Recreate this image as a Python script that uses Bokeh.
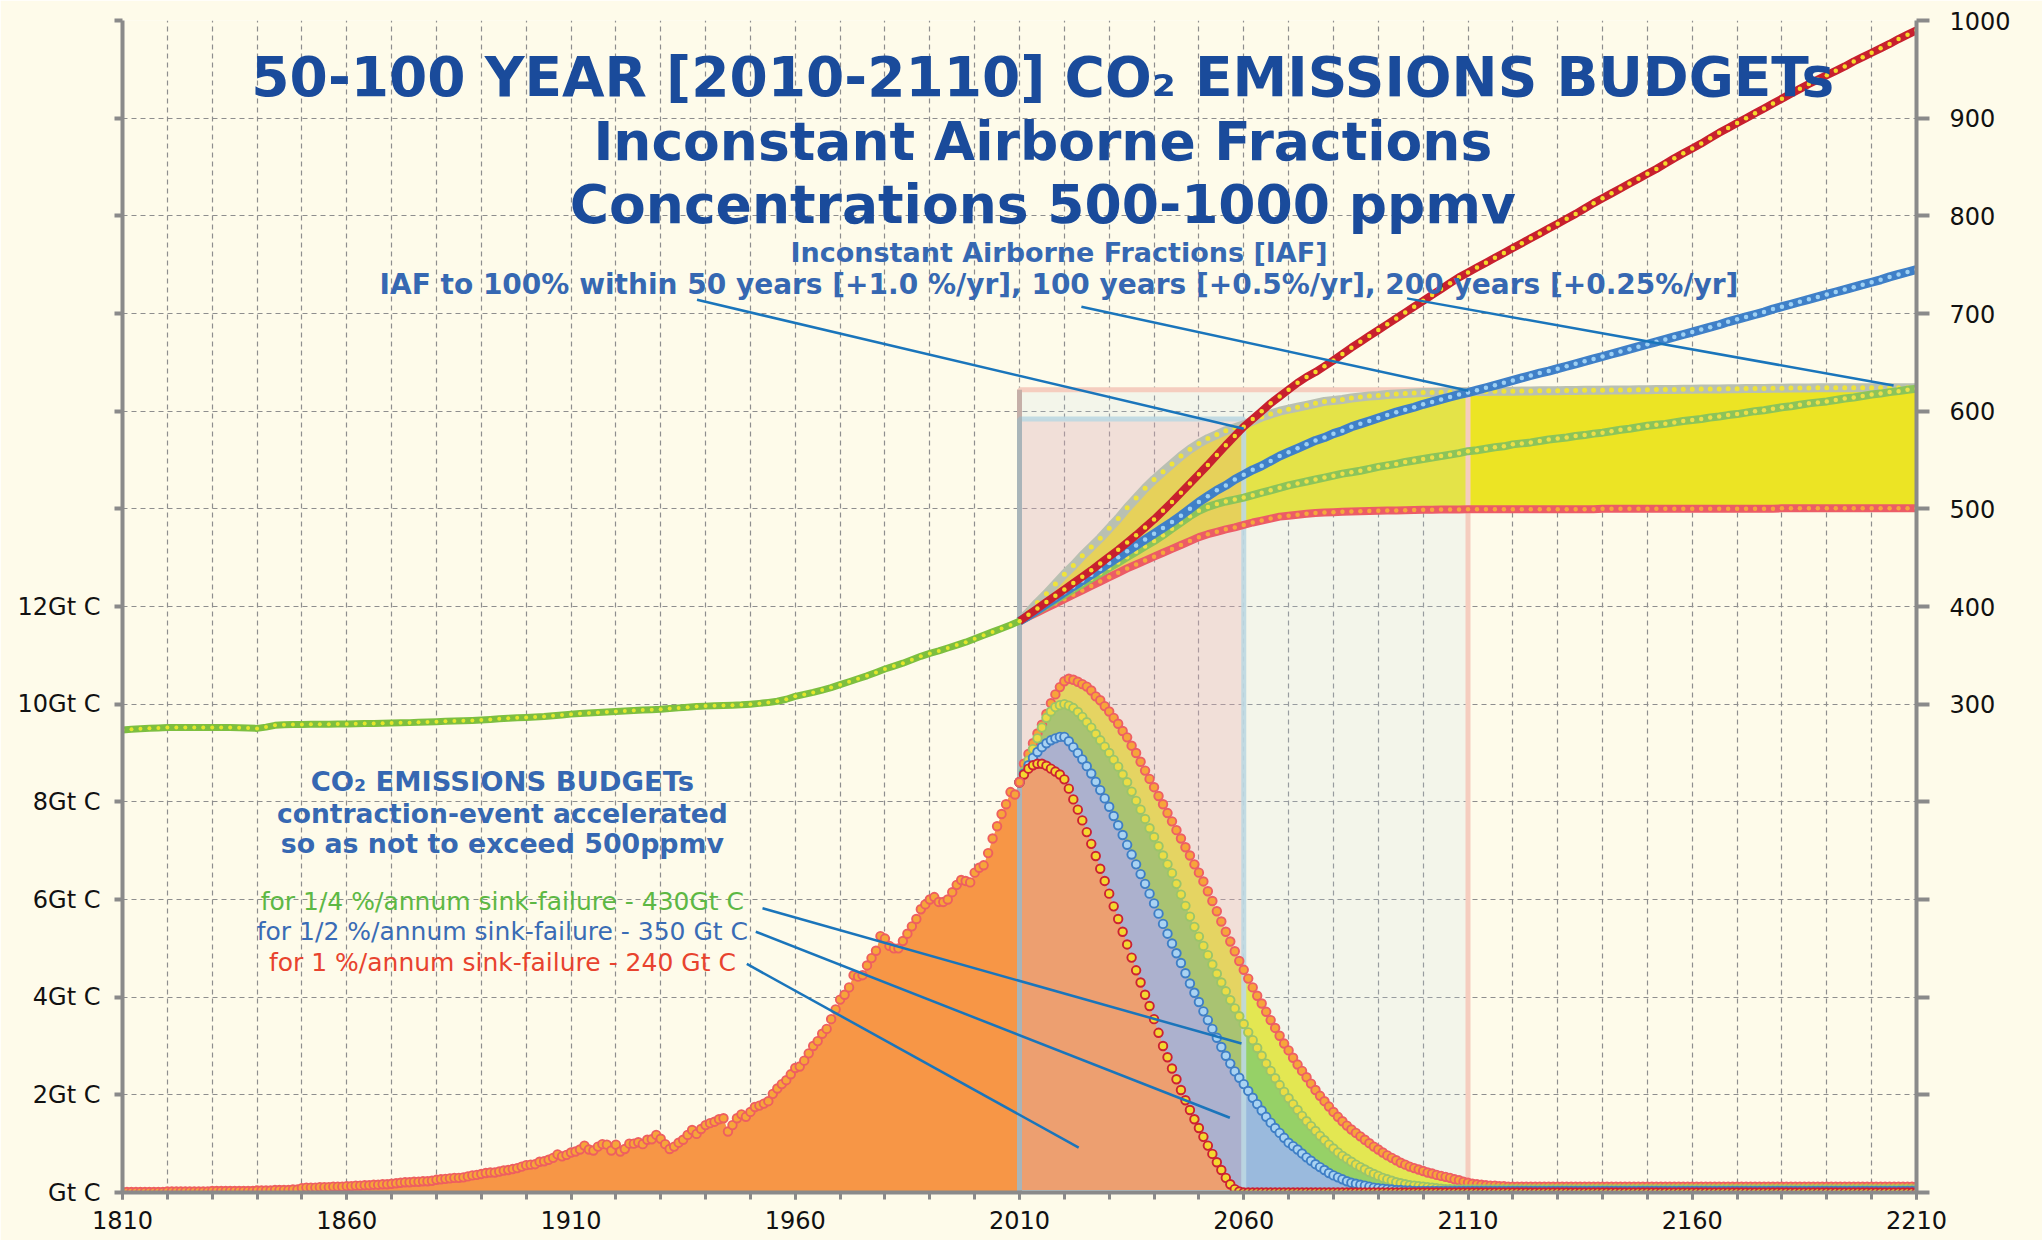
from bokeh.plotting import figure
from bokeh.models import Range1d, LinearAxis, FixedTicker, Label
from bokeh.embed import file_html
from bokeh.resources import INLINE

# ---------------- DATA ----------------
HIST_YEARS = list(range(1810, 2011))          # yearly
FUT_YEARS = list(range(2010, 2211))           # yearly
HIST_PPM_YEARS = list(range(1810, 2011, 2))   # every 2 years
FUT_PPM_YEARS = list(range(2010, 2211, 2))    # every 2 years

# historical emissions, Gt C
HIST_EMIS = [
    0.01, 0.01, 0.01, 0.01, 0.01, 0.01, 0.01, 0.01, 0.01, 0.01,
    0.02, 0.02, 0.02, 0.02, 0.02, 0.02, 0.02, 0.02, 0.02, 0.02,
    0.03, 0.03, 0.03, 0.03, 0.03, 0.03, 0.03, 0.03, 0.03, 0.03,
    0.04, 0.04, 0.04, 0.04, 0.05, 0.05, 0.05, 0.05, 0.06, 0.06,
    0.09, 0.10, 0.10, 0.10, 0.11, 0.11, 0.11, 0.12, 0.12, 0.12,
    0.13, 0.13, 0.14, 0.14, 0.15, 0.15, 0.16, 0.16, 0.17, 0.17,
    0.18, 0.19, 0.20, 0.21, 0.21, 0.22, 0.22, 0.23, 0.23, 0.24,
    0.26, 0.27, 0.28, 0.29, 0.30, 0.30, 0.31, 0.33, 0.35, 0.36,
    0.38, 0.40, 0.41, 0.41, 0.43, 0.45, 0.46, 0.48, 0.50, 0.53,
    0.56, 0.57, 0.58, 0.63, 0.64, 0.67, 0.71, 0.78, 0.74, 0.77,
    0.82, 0.84, 0.88, 0.96, 0.88, 0.86, 0.94, 0.99, 0.98, 0.86,
    0.98, 0.84, 0.89, 1.00, 1.00, 1.03, 0.99, 1.08, 1.09, 1.18,
    1.10, 0.99, 0.89, 0.94, 1.02, 1.08, 1.18, 1.28, 1.20, 1.30,
    1.38, 1.42, 1.45, 1.50, 1.52, 1.25, 1.38, 1.52, 1.60, 1.55,
    1.65, 1.75, 1.78, 1.82, 1.87, 2.02, 2.13, 2.22, 2.30, 2.42,
    2.55, 2.58, 2.70, 2.85, 3.00, 3.10, 3.25, 3.35, 3.55, 3.75,
    3.95, 4.05, 4.20, 4.45, 4.42, 4.45, 4.65, 4.80, 4.95, 5.25,
    5.20, 5.05, 5.00, 5.00, 5.15, 5.30, 5.45, 5.60, 5.80, 5.90,
    6.00, 6.05, 5.95, 5.95, 6.00, 6.15, 6.30, 6.40, 6.38, 6.35,
    6.55, 6.65, 6.70, 6.95, 7.25, 7.50, 7.75, 7.95, 8.20, 8.15,
    8.40]

# future emission budgets, Gt C (1% / 0.5% / 0.25% sink-failure and upper envelope)
RED_EMIS = [
    8.40, 8.56, 8.68, 8.75, 8.78, 8.78, 8.74, 8.68, 8.62, 8.56,
    8.46, 8.27, 8.05, 7.84, 7.62, 7.38, 7.14, 6.89, 6.63, 6.38,
    6.12, 5.86, 5.60, 5.34, 5.08, 4.81, 4.55, 4.30, 4.05, 3.82,
    3.55, 3.27, 3.00, 2.77, 2.54, 2.32, 2.10, 1.89, 1.69, 1.50,
    1.32, 1.14, 0.96, 0.79, 0.62, 0.46, 0.30, 0.17, 0.07, 0.02,
    0, 0, 0, 0, 0, 0, 0, 0, 0, 0,
    0, 0, 0, 0, 0, 0, 0, 0, 0, 0,
    0, 0, 0, 0, 0, 0, 0, 0, 0, 0,
    0, 0, 0, 0, 0, 0, 0, 0, 0, 0,
    0, 0, 0, 0, 0, 0, 0, 0, 0, 0,
    0, 0, 0, 0, 0, 0, 0, 0, 0, 0,
    0, 0, 0, 0, 0, 0, 0, 0, 0, 0,
    0, 0, 0, 0, 0, 0, 0, 0, 0, 0,
    0, 0, 0, 0, 0, 0, 0, 0, 0, 0,
    0, 0, 0, 0, 0, 0, 0, 0, 0, 0,
    0, 0, 0, 0, 0, 0, 0, 0, 0, 0,
    0, 0, 0, 0, 0, 0, 0, 0, 0, 0,
    0, 0, 0, 0, 0, 0, 0, 0, 0, 0,
    0, 0, 0, 0, 0, 0, 0, 0, 0, 0,
    0, 0, 0, 0, 0, 0, 0, 0, 0, 0,
    0]

BLUE_EMIS = [
    8.40, 8.58, 8.75, 8.90, 9.02, 9.12, 9.20, 9.26, 9.30, 9.33,
    9.33, 9.24, 9.12, 9.00, 8.87, 8.73, 8.58, 8.41, 8.24, 8.07,
    7.90, 7.71, 7.52, 7.32, 7.12, 6.92, 6.72, 6.52, 6.32, 6.12,
    5.92, 5.71, 5.50, 5.30, 5.10, 4.90, 4.70, 4.49, 4.28, 4.09,
    3.90, 3.71, 3.53, 3.35, 3.17, 2.98, 2.80, 2.64, 2.48, 2.35,
    2.22, 2.08, 1.94, 1.81, 1.68, 1.55, 1.43, 1.32, 1.22, 1.12,
    1.02, 0.95, 0.88, 0.80, 0.72, 0.65, 0.58, 0.52, 0.46, 0.40,
    0.35, 0.31, 0.27, 0.23, 0.20, 0.18, 0.16, 0.14, 0.12, 0.10,
    0.09, 0.08, 0.07, 0.06, 0.05, 0.05, 0.04, 0.04, 0.03, 0.03,
    0.03, 0.03, 0.03, 0.03, 0.03, 0.03, 0.03, 0.03, 0.03, 0.03,
    0.03, 0.03, 0.03, 0.03, 0.03, 0.03, 0.03, 0.03, 0.03, 0.03,
    0.03, 0.03, 0.03, 0.03, 0.03, 0.03, 0.03, 0.03, 0.03, 0.03,
    0.03, 0.03, 0.03, 0.03, 0.03, 0.03, 0.03, 0.03, 0.03, 0.03,
    0.03, 0.03, 0.03, 0.03, 0.03, 0.03, 0.03, 0.03, 0.03, 0.03,
    0.03, 0.03, 0.03, 0.03, 0.03, 0.03, 0.03, 0.03, 0.03, 0.03,
    0.03, 0.03, 0.03, 0.03, 0.03, 0.03, 0.03, 0.03, 0.03, 0.03,
    0.03, 0.03, 0.03, 0.03, 0.03, 0.03, 0.03, 0.03, 0.03, 0.03,
    0.03, 0.03, 0.03, 0.03, 0.03, 0.03, 0.03, 0.03, 0.03, 0.03,
    0.03, 0.03, 0.03, 0.03, 0.03, 0.03, 0.03, 0.03, 0.03, 0.03,
    0.03, 0.03, 0.03, 0.03, 0.03, 0.03, 0.03, 0.03, 0.03, 0.03,
    0.03]

GREEN_EMIS = [
    8.40, 8.62, 8.85, 9.08, 9.30, 9.52, 9.72, 9.85, 9.94, 9.98,
    10.00, 9.97, 9.92, 9.84, 9.74, 9.63, 9.52, 9.39, 9.26, 9.13,
    9.00, 8.86, 8.72, 8.56, 8.40, 8.21, 8.02, 7.84, 7.65, 7.46,
    7.28, 7.09, 6.90, 6.72, 6.54, 6.32, 6.10, 5.87, 5.65, 5.44,
    5.24, 5.05, 4.86, 4.67, 4.48, 4.30, 4.12, 3.94, 3.77, 3.61,
    3.45, 3.28, 3.12, 2.96, 2.80, 2.64, 2.49, 2.34, 2.20, 2.06,
    1.93, 1.81, 1.69, 1.57, 1.46, 1.36, 1.26, 1.16, 1.07, 0.98,
    0.90, 0.82, 0.75, 0.69, 0.63, 0.57, 0.52, 0.47, 0.42, 0.38,
    0.34, 0.30, 0.27, 0.24, 0.21, 0.19, 0.17, 0.15, 0.14, 0.13,
    0.12, 0.11, 0.10, 0.09, 0.08, 0.07, 0.07, 0.06, 0.06, 0.06,
    0.06, 0.06, 0.06, 0.06, 0.06, 0.06, 0.06, 0.06, 0.06, 0.06,
    0.06, 0.06, 0.06, 0.06, 0.06, 0.06, 0.06, 0.06, 0.06, 0.06,
    0.06, 0.06, 0.06, 0.06, 0.06, 0.06, 0.06, 0.06, 0.06, 0.06,
    0.06, 0.06, 0.06, 0.06, 0.06, 0.06, 0.06, 0.06, 0.06, 0.06,
    0.06, 0.06, 0.06, 0.06, 0.06, 0.06, 0.06, 0.06, 0.06, 0.06,
    0.06, 0.06, 0.06, 0.06, 0.06, 0.06, 0.06, 0.06, 0.06, 0.06,
    0.06, 0.06, 0.06, 0.06, 0.06, 0.06, 0.06, 0.06, 0.06, 0.06,
    0.06, 0.06, 0.06, 0.06, 0.06, 0.06, 0.06, 0.06, 0.06, 0.06,
    0.06, 0.06, 0.06, 0.06, 0.06, 0.06, 0.06, 0.06, 0.06, 0.06,
    0.06, 0.06, 0.06, 0.06, 0.06, 0.06, 0.06, 0.06, 0.06, 0.06,
    0.06]

TOP_EMIS = [
    8.40, 8.78, 8.98, 9.20, 9.40, 9.58, 9.80, 10.02, 10.20, 10.35,
    10.47, 10.52, 10.50, 10.46, 10.41, 10.36, 10.28, 10.16, 10.08, 9.96,
    9.85, 9.72, 9.60, 9.45, 9.32, 9.15, 9.00, 8.82, 8.64, 8.47,
    8.30, 8.12, 7.95, 7.77, 7.60, 7.42, 7.25, 7.07, 6.90, 6.72,
    6.55, 6.37, 6.17, 5.97, 5.76, 5.55, 5.34, 5.14, 4.94, 4.74,
    4.56, 4.38, 4.20, 4.03, 3.87, 3.70, 3.53, 3.37, 3.21, 3.05,
    2.91, 2.76, 2.62, 2.49, 2.36, 2.23, 2.10, 1.98, 1.87, 1.76,
    1.65, 1.55, 1.46, 1.37, 1.29, 1.22, 1.15, 1.08, 1.01, 0.94,
    0.88, 0.82, 0.76, 0.71, 0.66, 0.61, 0.57, 0.53, 0.50, 0.47,
    0.44, 0.41, 0.39, 0.36, 0.34, 0.32, 0.30, 0.27, 0.25, 0.22,
    0.20, 0.18, 0.17, 0.16, 0.15, 0.14, 0.14, 0.13, 0.13, 0.12,
    0.12, 0.12, 0.12, 0.12, 0.12, 0.12, 0.12, 0.12, 0.12, 0.12,
    0.12, 0.12, 0.12, 0.12, 0.12, 0.12, 0.12, 0.12, 0.12, 0.12,
    0.12, 0.12, 0.12, 0.12, 0.12, 0.12, 0.12, 0.12, 0.12, 0.12,
    0.12, 0.12, 0.12, 0.12, 0.12, 0.12, 0.12, 0.12, 0.12, 0.12,
    0.12, 0.12, 0.12, 0.12, 0.12, 0.12, 0.12, 0.12, 0.12, 0.12,
    0.12, 0.12, 0.12, 0.12, 0.12, 0.12, 0.12, 0.12, 0.12, 0.12,
    0.12, 0.12, 0.12, 0.12, 0.12, 0.12, 0.12, 0.12, 0.12, 0.12,
    0.12, 0.12, 0.12, 0.12, 0.12, 0.12, 0.12, 0.12, 0.12, 0.12,
    0.12, 0.12, 0.12, 0.12, 0.12, 0.12, 0.12, 0.12, 0.12, 0.12,
    0.12]

# concentrations, ppmv
HIST_PPM = [
    273.5, 274.2, 274.8, 275.3, 275.7, 276.0, 276.0, 276.1, 276.1, 276.1,
    276.1, 276.1, 276.0, 275.8, 275.5, 275.2, 276.5, 278.3, 279.0, 279.2,
    279.3, 279.4, 279.5, 279.5, 279.6, 279.7, 279.9, 280.1, 280.3, 280.5,
    280.7, 280.9, 281.1, 281.4, 281.7, 282.0, 282.4, 282.8, 283.1, 283.4,
    283.8, 284.4, 285.0, 285.6, 286.0, 286.4, 286.8, 287.3, 288.1, 289.0,
    289.8, 290.5, 291.0, 291.5, 292.0, 292.5, 293.0, 293.5, 294.0, 294.4,
    294.8, 295.5, 296.2, 296.9, 297.5, 298.0, 298.3, 298.6, 298.9, 299.3,
    300.0, 300.8, 301.8, 303.0, 305.0, 308.0, 310.0, 312.0, 314.5, 317.0,
    320.0, 323.0, 326.0, 329.0, 332.5, 336.0, 339.0, 342.0, 345.5, 349.0,
    352.0, 354.5, 357.5, 360.5, 363.5, 367.0, 370.5, 374.0, 377.5, 381.0,
    385.0]

PPM_500 = [
    385, 389.5, 394, 398.5, 403, 407.5, 412, 416.5, 421, 425.5,
    430, 434.5, 439, 443, 447, 451, 455, 459, 463, 467,
    471, 474, 476.5, 479, 481, 483.5, 486, 488, 490, 492,
    493, 494, 495, 495.8, 496.2, 496.6, 497, 497.3, 497.6, 497.8,
    498, 498.2, 498.4, 498.6, 498.8, 499, 499.1, 499.2, 499.3, 499.4,
    499.5, 499.5, 499.5, 499.5, 499.5, 499.5, 499.5, 499.5, 499.5, 499.5,
    499.5, 499.5, 499.5, 499.5, 499.5, 500, 500, 500, 500, 500,
    500, 500, 500, 500, 500, 500, 500, 500, 500, 500,
    500, 500, 500, 500, 500, 500.5, 500.5, 500.5, 500.5, 500.5,
    500.5, 500.5, 500.5, 500.5, 500.5, 500.5, 500.5, 500.5, 500.5, 500.5,
    500.5]

PPM_TOP = [
    385, 394, 404, 413, 423, 433, 442, 452, 461, 470,
    480, 490, 501, 511, 521, 530, 538, 546, 554, 561,
    567, 572, 576, 580, 583, 586, 590, 594, 597, 600,
    602, 604, 606, 608, 610, 611, 612, 613.5, 614.5, 615.5,
    616, 617, 617.5, 618, 618.5, 619, 619.2, 619.4, 619.6, 619.8,
    620, 620.1, 620.2, 620.3, 620.4, 620.5, 620.6, 620.7, 620.8, 620.9,
    621, 621.1, 621.2, 621.3, 621.4, 621.5, 621.6, 621.7, 621.8, 621.9,
    622, 622.1, 622.2, 622.3, 622.4, 622.5, 622.6, 622.7, 622.8, 622.9,
    623, 623.1, 623.2, 623.3, 623.4, 623.5, 623.6, 623.7, 623.8, 623.9,
    624, 624, 624, 624, 624, 624, 624, 624, 624, 624,
    624]

PPM_RED = [
    385, 391.5, 398, 404.5, 411, 417.5, 424, 430.5, 437, 444,
    451, 458, 465.5, 473, 481, 489, 498, 507, 516.5, 526,
    535.5, 545, 555, 565, 574.5, 584, 592, 600, 608, 615,
    622, 629, 635, 640, 646, 652, 658.5, 665, 671, 677,
    683, 689, 695, 701, 707, 713, 719, 725, 731, 737,
    742, 747, 752, 757, 762, 767, 772, 777, 782, 787,
    792, 797, 802, 807.5, 813, 818, 823, 828, 833, 838,
    843, 848, 853.5, 859, 864, 869, 874, 879.5, 885, 890,
    895, 900, 905, 910, 915, 920, 925, 930, 935, 939.5,
    944, 948.5, 953, 958, 962.5, 967, 971.5, 976, 981, 985.5,
    990]

PPM_BLUE = [
    385, 390.5, 396.5, 402.5, 408.5, 414.5, 420.5, 426.5, 432.5, 438.5,
    444.5, 450.5, 456.5, 462.5, 468.5, 474.5, 480.5, 486.5, 493, 500,
    507, 513, 519, 524, 530, 535, 540, 544, 549, 554,
    558, 562, 566, 570, 573, 577, 580, 584, 587, 590,
    593, 596, 599, 601.5, 604, 607, 609.5, 612, 614.5, 617,
    619, 621.5, 624, 626.5, 629, 631.5, 634, 636.5, 639, 641,
    643.5, 646, 648.5, 651, 653.5, 656, 658.5, 661, 663.5, 666,
    668.5, 671, 673.5, 676, 678.5, 681, 683.5, 686, 688.5, 691.5,
    694, 696.5, 699, 701.5, 704.5, 707, 709.5, 712, 714.5, 717,
    719.5, 722, 724.5, 727, 729.5, 732, 734.5, 737.5, 740, 742.5,
    745]

PPM_GREEN = [
    385, 390, 395.5, 401, 406.5, 412, 417.5, 423, 428.5, 434,
    439.5, 445, 450.5, 456, 461.5, 467, 473, 479.5, 486, 492.5,
    498, 502, 505, 507.5, 509.5, 511.5, 514, 516.5, 519, 521.5,
    524, 526, 528, 530, 532, 534, 536, 537.5, 539, 541,
    543, 544.5, 546, 548, 549.5, 551, 552.5, 554, 555.5, 557,
    559, 560, 561.5, 563, 564, 566, 567, 568, 569.5, 571,
    572, 573, 574.5, 575.5, 577, 578, 579.5, 581, 582, 583.5,
    585, 586, 587, 588.5, 590, 591, 592, 593.5, 594.5, 596,
    597, 598.5, 600, 601, 602.5, 604, 605, 606.5, 608, 609,
    610, 611.5, 613, 614, 615.5, 617, 618, 619.5, 620.5, 622,
    623]

# budget windows (years) and their ppm ceilings
WINDOW_START, WINDOW_50, WINDOW_100 = 2010, 2060, 2110
CEIL_100, CEIL_50 = 622, 592

# callout lines: (x0, y0, x1, y1)
IAF_CALLOUTS = [(1938.1, 714, 2060.0, 582), (2023.8, 707, 2110.1, 621), (2096.4, 715.5, 2204.9, 626.3)]
BUDGET_CALLOUTS = [(1952.7, 5.82, 2059.5, 3.05), (1951.2, 5.34, 2056.9, 1.53), (1949.2, 4.68, 2023.2, 0.92)]

X_TICKS = list(range(1810, 2211, 50))
X_MINOR = list(range(1810, 2211, 10))
GT_TICKS = list(range(0, 25, 2))
PPM_TICKS = list(range(-200, 1001, 100))

assert len(HIST_EMIS) == len(HIST_YEARS)
for s in (RED_EMIS, BLUE_EMIS, GREEN_EMIS, TOP_EMIS):
    assert len(s) == len(FUT_YEARS), len(s)
assert len(HIST_PPM) == len(HIST_PPM_YEARS)
for s in (PPM_500, PPM_TOP, PPM_RED, PPM_BLUE, PPM_GREEN):
    assert len(s) == len(FUT_PPM_YEARS), len(s)

# ---------------- FIGURE ----------------
BG = "#FEFBEA"
FONT = "DejaVu Sans"
AXC = "#8A8A8A"

p = figure(width=2042, height=1240, title=None,
           x_range=Range1d(1810, 2210), y_range=Range1d(0, 24),
           output_backend="svg", toolbar_location=None,
           min_border_left=122, min_border_right=126, min_border_top=20, min_border_bottom=48,
           background_fill_color=BG, border_fill_color=BG, outline_line_color=None)
p.extra_y_ranges = {"ppm": Range1d(-200, 1000)}

right = LinearAxis(y_range_name="ppm")
p.add_layout(right, "right")

xax = p.xaxis[0]
yax = p.yaxis[0]
xax.ticker = FixedTicker(ticks=X_TICKS, minor_ticks=X_MINOR)
yax.ticker = FixedTicker(ticks=GT_TICKS)
right.ticker = FixedTicker(ticks=PPM_TICKS)

yax.major_label_overrides = {t: ("Gt C" if t == 0 else ("%dGt C" % t if t <= 12 else "")) for t in GT_TICKS}
right.major_label_overrides = {t: (str(t) if t >= 300 else "") for t in PPM_TICKS}

for ax in (xax, yax, right):
    ax.axis_line_color = AXC
    ax.axis_line_width = 4
    ax.major_tick_line_color = AXC
    ax.major_tick_line_width = 4
    ax.major_tick_in = 0
    ax.major_label_text_font = FONT
    ax.major_label_text_font_size = "24px"
    ax.major_label_text_color = "#111111"
    ax.minor_tick_line_color = None

xax.major_tick_out = 7
xax.major_tick_line_width = 3
xax.minor_tick_line_color = AXC
xax.minor_tick_line_width = 3
xax.minor_tick_in = 0
xax.minor_tick_out = 7
xax.major_label_standoff = 11
yax.major_tick_out = 8
yax.major_label_standoff = 14
right.major_tick_out = 13
right.major_label_standoff = 20

p.xgrid.ticker = FixedTicker(ticks=X_MINOR)
p.ygrid.ticker = FixedTicker(ticks=GT_TICKS)
for g in (p.xgrid[0], p.ygrid[0]):
    g.grid_line_color = "#8E8E8E"
    g.grid_line_dash = "5 4"
    g.grid_line_width = 1.2

# ---------------- FILLS ----------------
p.varea(x=FUT_PPM_YEARS, y1=PPM_500, y2=PPM_TOP, fill_color="#ECE424", y_range_name="ppm")

p.varea(x=FUT_YEARS, y1=0, y2=TOP_EMIS, fill_color="#EBEA30")
p.varea(x=FUT_YEARS, y1=0, y2=GREEN_EMIS, fill_color="#8DCF4A")
p.varea(x=FUT_YEARS, y1=0, y2=BLUE_EMIS, fill_color="#92B2DA")
p.varea(x=FUT_YEARS, y1=0, y2=RED_EMIS, fill_color="#F79646")
p.varea(x=HIST_YEARS, y1=0, y2=HIST_EMIS, fill_color="#F79646")

# budget-window overlays
p.quad(left=WINDOW_START, right=WINDOW_100, bottom=-200, top=CEIL_100,
       fill_color="#C4DDF0", fill_alpha=0.18, line_color="#F5CDBF", line_width=5,
       y_range_name="ppm")
p.quad(left=WINDOW_START, right=WINDOW_50, bottom=-200, top=CEIL_50,
       fill_color="#EB929A", fill_alpha=0.22, line_color="#BDD8E2", line_width=5,
       line_alpha=0.9, y_range_name="ppm")
p.segment(x0=WINDOW_START, y0=-200, x1=WINDOW_START, y1=CEIL_100, line_color="#8C8C8C",
          line_alpha=0.45, line_width=5, y_range_name="ppm")


# ---------------- SERIES ----------------
def chain(xs, ys, outline, fill, width=8, dot=4.5):
    p.line(xs, ys, line_color=outline, line_width=width, line_join="round", y_range_name="ppm")
    p.scatter(xs, ys, size=dot, fill_color=fill, line_color=None, y_range_name="ppm")


def beads(xs, ys, outline, fill, size=8.5):
    p.scatter(xs, ys, size=size, fill_color=fill, line_color=outline, line_width=1.9)


chain(FUT_PPM_YEARS, PPM_TOP, "#B9C0B2", "#EFE33A", width=9, dot=5)
chain(FUT_PPM_YEARS, PPM_500, "#EC5C66", "#F5A83C")
chain(FUT_PPM_YEARS, PPM_GREEN, "#8CC45A", "#EDE04A")
chain(FUT_PPM_YEARS, PPM_BLUE, "#3F80C8", "#9DD0F4", width=9)
chain(FUT_PPM_YEARS, PPM_RED, "#C8202E", "#F4DA2C")
chain(HIST_PPM_YEARS, HIST_PPM, "#7DBF3F", "#E4E62C", width=7, dot=4)

beads(FUT_YEARS, TOP_EMIS, "#EE5F64", "#F6A53A")
beads(FUT_YEARS, GREEN_EMIS, "#9BC56A", "#EBDD45")
beads(FUT_YEARS, BLUE_EMIS, "#3F7FC6", "#A9D3F2")
beads(FUT_YEARS, RED_EMIS, "#CC2233", "#F4D830")
beads(HIST_YEARS, HIST_EMIS, "#EE5F5F", "#F6A53A")

# callouts
CALLOUT = "#1A75BB"
for x0, y0, x1, y1 in IAF_CALLOUTS:
    p.segment(x0=x0, y0=y0, x1=x1, y1=y1, line_color=CALLOUT, line_width=2.5, y_range_name="ppm")
for x0, y0, x1, y1 in BUDGET_CALLOUTS:
    p.segment(x0=x0, y0=y0, x1=x1, y1=y1, line_color=CALLOUT, line_width=2.5)


# ---------------- TEXTS ----------------
def label(x, y, text, size, color, bold=True):
    p.add_layout(Label(x=x, y=y, text=text, text_font=FONT, text_font_size=size,
                       text_font_style="bold" if bold else "normal", text_color=color,
                       text_align="center", text_baseline="middle"))


TITLE_C = "#1A4B9B"
SUB_C = "#3668B2"
label(2015.2, 22.84, "50-100 YEAR [2010-2110] CO\u2082 EMISSIONS BUDGETs", "55px", TITLE_C)
label(2015.2, 21.52, "Inconstant Airborne Fractions", "53.5px", TITLE_C)
label(2015.2, 20.23, "Concentrations 500-1000 ppmv", "53.5px", TITLE_C)
label(2018.8, 19.24, "Inconstant Airborne Fractions [IAF]", "27px", SUB_C)
label(2018.8, 18.59, "IAF to 100% within 50 years [+1.0 %/yr], 100 years [+0.5%/yr], 200 years [+0.25%/yr]", "28px", SUB_C)

label(1894.7, 8.42, "CO\u2082 EMISSIONS BUDGETs", "27.4px", SUB_C)
label(1894.7, 7.77, "contraction-event accelerated", "26.5px", SUB_C)
label(1894.7, 7.14, "so as not to exceed 500ppmv", "26.8px", SUB_C)

label(1894.7, 5.95, "for 1/4 %/annum sink-failure - 430Gt C", "25px", "#5DB844", bold=False)
label(1894.7, 5.34, "for 1/2 %/annum sink-failure - 350 Gt C", "25px", "#3A6CB5", bold=False)
label(1894.7, 4.72, "for 1 %/annum sink-failure - 240 Gt C", "25px", "#E8432E", bold=False)

open("out.html", "w").write(file_html(p, INLINE, "CO2 emissions budgets"))
